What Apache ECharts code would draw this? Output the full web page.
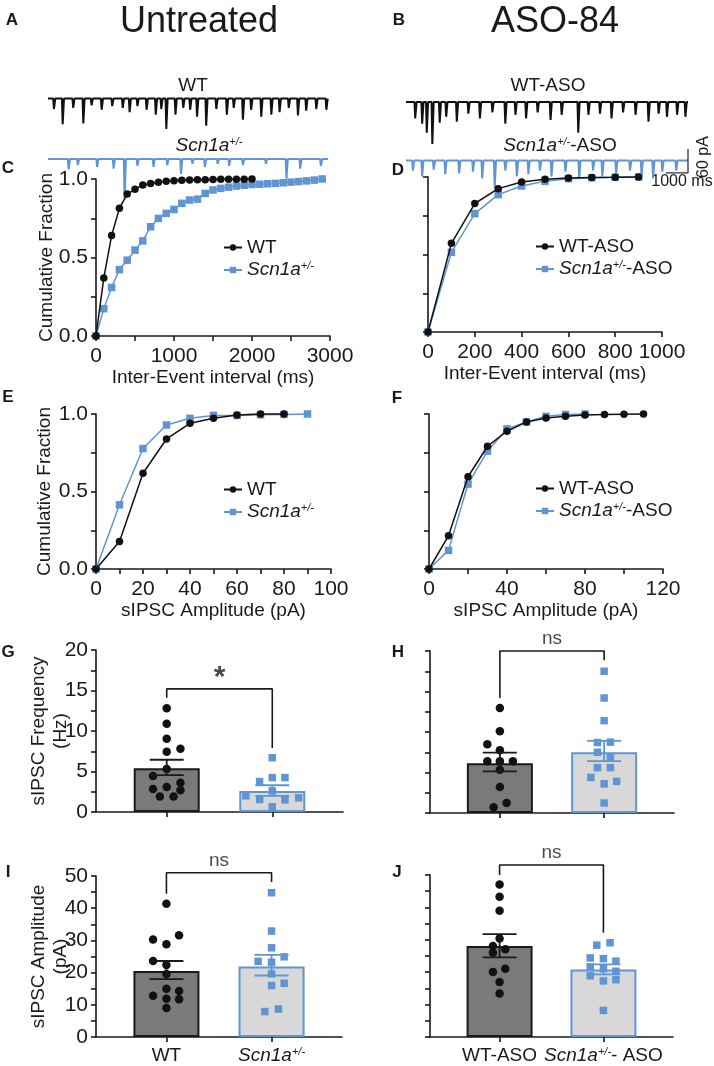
<!DOCTYPE html>
<html lang="en">
<head>
<meta charset="UTF-8">
<title>sIPSC untreated vs ASO-84</title>
<script src="https://cdn.jsdelivr.net/npm/echarts@6.0.0/dist/echarts.min.js"></script>
<style>html,body{margin:0;padding:0;background:#fff}#main{width:714px;height:1066px}</style>
</head>
<body>
<div id="main"></div>
<script>
var FONT = '"Liberation Sans", Arial, sans-serif';
var INK = '#1a1a1a';
var BLUE = '#6194d2';
var WT_BAR = '#7a7a7a', HET_BAR = '#d8d8d8';

// A/B example traces: events as [time (ms), amplitude (pA)]
var traceUntreatedWT = [[270,26],[666,64],[1144,23],[1602,62],[1976,17],[2434,28],[2912,19],[3390,23],[3702,34],[4056,19],[4472,28],[4888,40],[5138,26],[5366,76],[5782,40],[6136,23],[6448,28],[6760,45],[7176,68],[7634,26],[8112,40],[8424,23],[8840,53],[9214,28],[9672,45],[10130,40],[10504,34],[10920,23],[11336,42],[11710,30],[12168,26],[12626,28]];
var traceUntreatedHet = [[936,26],[1352,15],[2226,20],[2974,24],[3474,99],[4056,17],[4784,20],[5408,15],[6032,37],[6552,12],[7114,20],[7696,12],[8216,17],[8840,15],[9880,12],[10816,49],[11440,24],[12376,17]];
var traceAsoWT = [[416,41],[728,54],[936,77],[1186,105],[1518,52],[1810,37],[2288,49],[2808,29],[3328,41],[3890,26],[4472,54],[4930,32],[5408,41],[5928,26],[6510,45],[7010,32],[7758,77],[8216,32],[8736,29],[9256,41],[9776,26],[10338,32],[10920,49],[11378,29],[11752,37],[12210,32],[12584,37]];
var traceAsoHet = [[312,25],[728,40],[1248,23],[1768,34],[2392,32],[3016,28],[3432,45],[3994,68],[4472,25],[4992,40],[5512,34],[6032,25],[6552,40],[7176,28],[7800,47],[8424,25],[8840,40],[9464,32],[10088,25],[10608,40],[11128,45],[11544,28],[12168,25]];
var traceLengthMs = 12700;
var scaleBarMs = 1000, scaleBarPa = 60;

// C: inter-event interval, untreated
var cWtInterval = [0,100,200,300,400,500,600,700,800,900,1000,1100,1200,1300,1400,1500,1600,1700,1800,1900,2000];
var cWtFrac = [0,0.37,0.64,0.813,0.904,0.934,0.962,0.972,0.979,0.985,0.989,0.992,0.994,0.995,0.996,0.997,0.998,0.998,0.999,0.999,1.0];
var cHetInterval = [0,100,200,300,400,500,600,700,800,900,1000,1100,1200,1300,1400,1500,1600,1700,1800,1900,2000,2100,2200,2300,2400,2500,2600,2700,2800,2900];
var cHetFrac = [0,0.174,0.309,0.423,0.483,0.547,0.606,0.696,0.749,0.781,0.806,0.845,0.866,0.872,0.908,0.93,0.94,0.948,0.955,0.96,0.965,0.967,0.97,0.972,0.976,0.98,0.984,0.988,0.993,1.0];
// D: inter-event interval, ASO
var dInterval = [0,100,200,300,400,500,600,700,800,900];
var dWtFrac = [0,0.572,0.829,0.925,0.968,0.985,0.993,0.997,0.998,1.0];
var dHetFrac = [0,0.514,0.764,0.886,0.942,0.972,0.989,0.995,0.998,1.0];
// E: amplitude, untreated
var eWtAmp = [0,10,20,30,40,50,60,70,80];
var eWtFrac = [0,0.178,0.618,0.839,0.94,0.972,0.993,1.0,1.0];
var eHetAmp = [0,10,20,30,40,50,60,70,80,90];
var eHetFrac = [0,0.414,0.777,0.929,0.972,0.991,0.99,0.995,0.997,1.0];
// F: amplitude, ASO
var fWtAmp = [0,10,20,30,40,50,60,70,80,90,100,110];
var fWtFrac = [0,0.214,0.595,0.792,0.889,0.949,0.974,0.985,0.994,0.996,0.998,1.0];
var fHetAmp = [0,10,20,30,40,50,60,70,80];
var fHetFrac = [0,0.12,0.548,0.76,0.904,0.949,0.985,0.997,1.0];

// G-J: mean, SEM limits, cells as [jitter, value], bracket [left foot, top, right foot]
var untreatedGroups = ['WT', 'Scn1a+/-'];
var asoGroups = ['WT-ASO', 'Scn1a+/- - ASO'];

var gMean = [5.4, 2.6], gSemLow = [4.55, 2.0], gSemHigh = [6.45, 3.3];
var gWtCells = [[0,12.8],[0,10.9],[0,9.05],[0,7.45],[0.13,7.8],[0,5.3],[-0.13,4.45],[0.13,3.6],[0,3.1],[-0.13,2.85],[0.13,2.7],[-0.065,1.9],[0.065,1.9]];
var gHetCells = [[0,6.7],[-0.12,3.75],[0,4.25],[0.12,4.25],[0,2.6],[-0.25,2.0],[-0.12,1.55],[0.12,1.5],[0.25,1.75],[0,0.65]];
var gBracket = [14.1, 15.2, 7.9], gSig = '*';

var hMean = [6.15, 7.5], hSemLow = [5.15, 6.4], hSemHigh = [7.45, 8.9];
var hWtCells = [[0,12.96],[0,10.1],[-0.12,8.5],[0,7.75],[-0.12,6.4],[0,6.4],[0.125,6.4],[0,5.35],[0,3.2],[0.065,1.25],[-0.06,0.7]];
var hHetCells = [[0,17.5],[0,14.2],[0,11.4],[-0.064,8.7],[0.06,8.75],[-0.064,7.5],[0.06,6.9],[-0.064,5.6],[0.06,5.6],[-0.127,4.4],[0,3.6],[0.12,3.9],[0,1.23]];
var hBracket = [14.2, 20, 18.85], hSig = 'ns';

var iMean = [20.5, 21.9], iSemLow = [18.0, 19.1], iSemHigh = [23.6, 25.5];
var iWtCells = [[0,41.4],[-0.127,30.3],[0.12,31.6],[0,28.8],[-0.127,23.6],[0,22.4],[0,19.6],[-0.127,12.8],[0,15.0],[0.12,14.3],[0,11.9],[0.12,11.75],[0,9.0]];
var iHetCells = [[0,44.8],[0,32.9],[0,27.7],[-0.128,23.5],[0,23.2],[0.12,24.9],[0,19.6],[0.12,16.7],[0,16.0],[-0.064,7.9],[0.065,8.7]];
var iBracket = [44.5, 51, 48.1], iSig = 'ns';

var jMean = [28.1, 20.8], jSemLow = [24.6, 19.3], jSemHigh = [31.75, 22.4];
var jWtCells = [[0,47.1],[0,43.3],[0,39.0],[0,30.4],[-0.064,28.1],[0.055,27.1],[-0.064,26.0],[0.055,21.1],[-0.064,20.1],[0,17.0],[0,13.4]];
var jHetCells = [[-0.064,28.35],[0.064,29.1],[-0.127,24.4],[0,24.2],[0.12,23.4],[-0.127,21.6],[0,21.1],[0.12,20.3],[-0.127,18.9],[0,17.3],[0.12,17.7],[0,8.2]];
var jBracket = [50, 53.1, 32.2], jSig = 'ns';

var chart = echarts.init(document.getElementById('main'));

var rich = {
    n: {fontSize: 19, fontFamily: FONT, color: INK, fill: INK},
    i: {fontSize: 19, fontFamily: FONT, fontStyle: 'italic', color: INK, fill: INK},
    s: {fontSize: 11, fontFamily: FONT, fontStyle: 'italic', color: INK, fill: INK, verticalAlign: 'bottom', padding: [0, 0, 9, 0]}
};

function richName(n) {
    if (n === 'Scn1a+/-') return '{i|Scn1a}{s|+/-}';
    if (n === 'Scn1a+/--ASO') return '{i|Scn1a}{s|+/-}{n|-ASO}';
    if (n === 'Scn1a+/- - ASO') return '{i|Scn1a}{s|+/-}{n|- ASO}';
    return '{n|' + n + '}';
}

function pairs(xs, ys) {
    return xs.map(function (x, k) { return [x, ys[k]]; });
}

function spikes(events) {
    var pts = [[0, 0]];
    events.forEach(function (e) {
        pts.push([e[0] - 35, 0], [e[0], -e[1]], [e[0] + 60, 0]);
    });
    pts.push([traceLengthMs, 0]);
    return pts;
}

function axisLineStyle() {
    return {color: INK, width: 1.6};
}

var plain = function (v) { return String(v); };

function valueAxis(o) {
    return {
        type: 'value', gridIndex: o.grid, min: o.min, max: o.max, interval: o.interval,
        axisLine: {show: true, onZero: false, lineStyle: axisLineStyle()},
        axisTick: {show: true, length: 5, lineStyle: axisLineStyle(), customValues: o.ticks},
        minorTick: {show: !!o.minor, splitNumber: o.minor || 5, length: 5, lineStyle: axisLineStyle()},
        splitLine: {show: false}, minorSplitLine: {show: false},
        axisLabel: {show: o.labels !== false, fontSize: 21, fontFamily: FONT, color: INK, margin: o.margin || 8,
            formatter: o.fmt || plain, customValues: o.ticks, rich: rich},
        name: o.name || '', nameLocation: 'middle', nameGap: o.nameGap || 30, nameMoveOverlap: false,
        nameTextStyle: {fontSize: 19, fontFamily: FONT, color: INK, lineHeight: 22}
    };
}

function hiddenAxis(grid, min, max) {
    return {type: 'value', gridIndex: grid, min: min, max: max, show: false, splitLine: {show: false}};
}

var fixed1 = function (v) { return v.toFixed(1); };

var grids = [
    {left: 48, top: 94.6, width: 280, height: 48},
    {left: 48, top: 155, width: 280, height: 48},
    {left: 406, top: 98, width: 282, height: 48},
    {left: 406, top: 144.5, width: 282, height: 60},
    {left: 96, top: 179, width: 234, height: 157},
    {left: 428, top: 177, width: 234, height: 155},
    {left: 96, top: 414, width: 235, height: 155},
    {left: 429, top: 414, width: 234, height: 155},
    {left: 96, top: 650, width: 247, height: 162},
    {left: 430, top: 651, width: 244, height: 162},
    {left: 96, top: 876, width: 246, height: 161},
    {left: 430, top: 875, width: 243, height: 162}
];

var xAxes = [
    hiddenAxis(0, 0, traceLengthMs), hiddenAxis(1, 0, traceLengthMs),
    hiddenAxis(2, 0, traceLengthMs), hiddenAxis(3, 0, traceLengthMs),
    valueAxis({grid: 4, min: 0, max: 3000, interval: 1000, minor: 2, margin: 10, name: 'Inter-Event interval (ms)', nameGap: 31}),
    valueAxis({grid: 5, min: 0, max: 1000, interval: 200, margin: 10, name: 'Inter-Event interval (ms)', nameGap: 31}),
    valueAxis({grid: 6, min: 0, max: 100, interval: 20, minor: 2, margin: 10, name: 'sIPSC Amplitude (pA)', nameGap: 31}),
    valueAxis({grid: 7, min: 0, max: 120, interval: 40, minor: 2, margin: 10, name: 'sIPSC Amplitude (pA)', nameGap: 31}),
    valueAxis({grid: 8, min: -0.67, max: 1.67, ticks: [0, 1], labels: false}),
    valueAxis({grid: 9, min: -0.67, max: 1.67, ticks: [0, 1], labels: false}),
    valueAxis({grid: 10, min: -0.67, max: 1.67, ticks: [0, 1], margin: 9,
        fmt: function (v) { return richName(untreatedGroups[Math.round(v)]); }}),
    valueAxis({grid: 11, min: -0.67, max: 1.67, ticks: [0, 1], margin: 9,
        fmt: function (v) { return richName(asoGroups[Math.round(v)]); }})
];

var yAxes = [
    hiddenAxis(0, -110, 10), hiddenAxis(1, -110, 10),
    hiddenAxis(2, -110, 10), hiddenAxis(3, -110, 40),
    valueAxis({grid: 4, min: 0, max: 1, interval: 0.5, minor: 2, fmt: fixed1, name: 'Cumulative Fraction', nameGap: 38}),
    valueAxis({grid: 5, min: 0, max: 1, interval: 0.25, labels: false}),
    valueAxis({grid: 6, min: 0, max: 1, interval: 0.5, minor: 2, fmt: fixed1, name: 'Cumulative Fraction', nameGap: 40}),
    valueAxis({grid: 7, min: 0, max: 1, interval: 0.25, labels: false}),
    valueAxis({grid: 8, min: 0, max: 20, interval: 5, minor: 2, name: 'sIPSC Frequency\n(Hz)', nameGap: 24}),
    valueAxis({grid: 9, min: 0, max: 20, interval: 5, minor: 2, labels: false}),
    valueAxis({grid: 10, min: 0, max: 50, interval: 10, minor: 2, name: 'sIPSC Amplitude\n(pA)', nameGap: 24}),
    valueAxis({grid: 11, min: 0, max: 50, interval: 10, minor: 2, labels: false})
];

var series = [];

function traceSeries(grid, events, color) {
    series.push({
        type: 'line', xAxisIndex: grid, yAxisIndex: grid, data: spikes(events),
        symbol: 'none', silent: true, lineStyle: {color: color, width: 2}
    });
}
traceSeries(0, traceUntreatedWT, '#111');
traceSeries(1, traceUntreatedHet, BLUE);
traceSeries(2, traceAsoWT, '#111');
traceSeries(3, traceAsoHet, BLUE);

// scale bar under the ASO traces
var barFoot = -31;
series.push({
    type: 'line', xAxisIndex: 3, yAxisIndex: 3, symbol: 'none', silent: true, clip: false,
    data: [[traceLengthMs - scaleBarMs, barFoot], [traceLengthMs, barFoot], [traceLengthMs, barFoot + scaleBarPa]],
    lineStyle: {color: '#333', width: 1.3}
});

function cumSeries(grid, name, xs, ys, isHet) {
    series.push({
        name: name, type: 'line', xAxisIndex: grid, yAxisIndex: grid, data: pairs(xs, ys),
        symbol: isHet ? 'rect' : 'circle', symbolSize: 7.5, clip: false, z: isHet ? 2 : 3,
        itemStyle: {color: isHet ? BLUE : '#111'},
        lineStyle: {color: isHet ? BLUE : '#111', width: 1.5}
    });
}
cumSeries(4, 'Scn1a+/-', cHetInterval, cHetFrac, true);
cumSeries(4, 'WT', cWtInterval, cWtFrac, false);
cumSeries(5, 'Scn1a+/--ASO', dInterval, dHetFrac, true);
cumSeries(5, 'WT-ASO', dInterval, dWtFrac, false);
cumSeries(6, 'Scn1a+/-', eHetAmp, eHetFrac, true);
cumSeries(6, 'WT', eWtAmp, eWtFrac, false);
cumSeries(7, 'Scn1a+/--ASO', fHetAmp, fHetFrac, true);
cumSeries(7, 'WT-ASO', fWtAmp, fWtFrac, false);

function renderSem(params, api) {
    var x = api.value(0);
    var top = api.coord([x, api.value(2)]);
    var bot = api.coord([x, api.value(1)]);
    var st = {stroke: api.visual('color'), lineWidth: 1.8};
    var w = 17;
    return {type: 'group', children: [
        {type: 'line', shape: {x1: top[0], y1: top[1], x2: bot[0], y2: bot[1]}, style: st},
        {type: 'line', shape: {x1: top[0] - w, y1: top[1], x2: top[0] + w, y2: top[1]}, style: st},
        {type: 'line', shape: {x1: bot[0] - w, y1: bot[1], x2: bot[0] + w, y2: bot[1]}, style: st}
    ]};
}

function barPanel(grid, mean, lo, hi, wtCells, hetCells, bracket, sig) {
    var ax = {xAxisIndex: grid, yAxisIndex: grid};
    series.push(Object.assign({
        type: 'bar', barWidth: 66, z: 2, silent: true,
        data: [
            {value: [0, mean[0]], itemStyle: {color: WT_BAR, borderColor: INK, borderWidth: 2}},
            {value: [1, mean[1]], itemStyle: {color: HET_BAR, borderColor: BLUE, borderWidth: 2}}
        ]
    }, ax));
    series.push(Object.assign({
        type: 'scatter', symbol: 'circle', symbolSize: 8.5, z: 3, itemStyle: {color: '#111', opacity: 1},
        data: wtCells.map(function (c) { return [c[0], c[1]]; })
    }, ax));
    series.push(Object.assign({
        type: 'scatter', symbol: 'rect', symbolSize: 7.5, z: 3, itemStyle: {color: BLUE, opacity: 1},
        data: hetCells.map(function (c) { return [1 + c[0], c[1]]; })
    }, ax));
    series.push(Object.assign({
        type: 'custom', z: 4, clip: false, renderItem: renderSem, encode: {x: 0, y: [1, 2]},
        data: [
            {value: [0, lo[0], hi[0]], itemStyle: {color: INK}},
            {value: [1, lo[1], hi[1]], itemStyle: {color: BLUE}}
        ]
    }, ax));
    series.push(Object.assign({
        type: 'line', symbol: 'none', clip: false, silent: true, z: 4,
        lineStyle: {color: INK, width: 1.6},
        data: [[0, bracket[0]], [0, bracket[1]], [1, bracket[1]], [1, bracket[2]]]
    }, ax));
    series.push(Object.assign({
        type: 'scatter', symbolSize: 1, clip: false, silent: true, z: 5,
        itemStyle: {color: 'rgba(0,0,0,0)'},
        label: {show: true, position: 'top', distance: sig === '*' ? -4 : 2, formatter: sig,
            fontSize: sig === '*' ? 30 : 19, fontWeight: sig === '*' ? 'bold' : 'normal', fontFamily: FONT, color: INK},
        data: [[0.5, bracket[1]]]
    }, ax));
}
barPanel(8, gMean, gSemLow, gSemHigh, gWtCells, gHetCells, gBracket, gSig);
barPanel(9, hMean, hSemLow, hSemHigh, hWtCells, hHetCells, hBracket, hSig);
barPanel(10, iMean, iSemLow, iSemHigh, iWtCells, iHetCells, iBracket, iSig);
barPanel(11, jMean, jSemLow, jSemHigh, jWtCells, jHetCells, jBracket, jSig);

function legendAt(left, top, names) {
    return {
        data: names, left: left, top: top, orient: 'vertical', itemGap: 3,
        itemWidth: 18, itemHeight: 8, selectedMode: false,
        textStyle: {fontSize: 19, fontFamily: FONT, color: INK, rich: rich},
        formatter: richName
    };
}

function txt(x, y, text, size, extra) {
    return {type: 'text', x: x, y: y, silent: true, style: Object.assign({
        text: text, fontSize: size, fontFamily: FONT, fill: INK, align: 'center', verticalAlign: 'middle', rich: rich
    }, extra || {})};
}

var graphics = [
    txt(199, 22, 'Untreated', 36),
    txt(555, 22, 'ASO-84', 36),
    txt(193, 86, 'WT', 19),
    txt(209, 146, richName('Scn1a+/-'), 19),
    txt(548, 86, 'WT-ASO', 19),
    txt(560, 146, richName('Scn1a+/--ASO'), 19),
    txt(682, 182, '1000 ms', 16),
    {type: 'text', x: 704, y: 157, rotation: Math.PI / 2, silent: true,
        style: {text: '60 pA', fontSize: 16, fontFamily: FONT, fill: INK, align: 'center', verticalAlign: 'middle'}}
];
[['A', 12, 20], ['B', 399, 20], ['C', 8, 168], ['D', 398, 170], ['E', 8, 397], ['F', 397, 398],
 ['G', 8, 652], ['H', 398, 652], ['I', 8, 872], ['J', 397, 872]].forEach(function (p) {
    graphics.push(txt(p[1], p[2], p[0], 17, {fontWeight: 'bold'}));
});

var option = {
    backgroundColor: '#ffffff',
    animation: false,
    textStyle: {fontFamily: FONT},
    grid: grids,
    xAxis: xAxes,
    yAxis: yAxes,
    legend: [
        legendAt(218, 233, ['WT', 'Scn1a+/-']),
        legendAt(530, 232, ['WT-ASO', 'Scn1a+/--ASO']),
        legendAt(218, 475, ['WT', 'Scn1a+/-']),
        legendAt(530, 474, ['WT-ASO', 'Scn1a+/--ASO'])
    ],
    graphic: graphics,
    series: series
};

chart.setOption(option);
</script>
</body>
</html>
